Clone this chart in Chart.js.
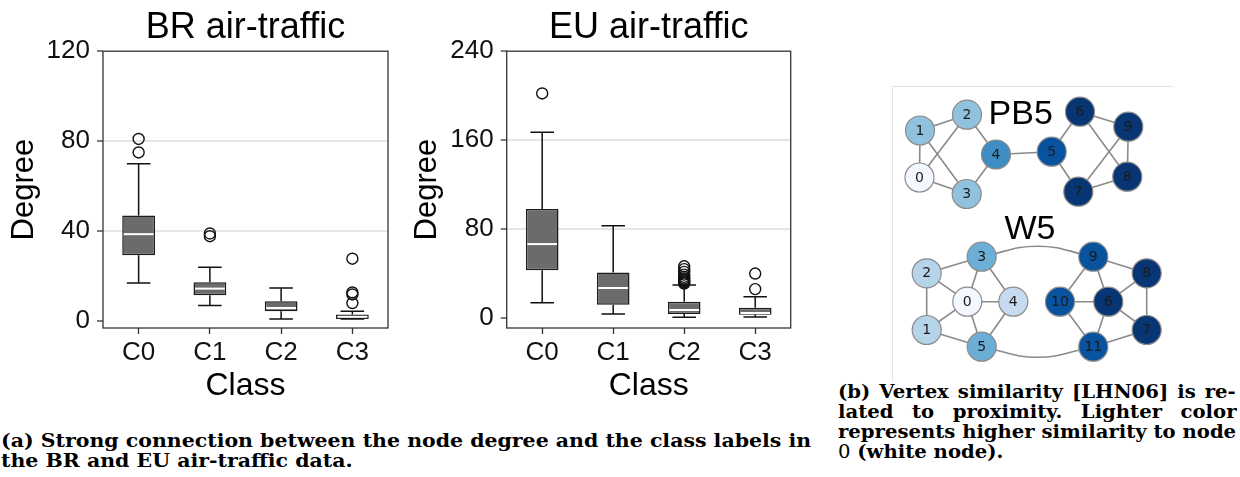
<!DOCTYPE html>
<html>
<head>
<meta charset="utf-8">
<title>Degree by class / vertex similarity</title>
<script src="https://cdn.jsdelivr.net/npm/chart.js@4.4.1/dist/chart.umd.min.js"></script>
<style>
  html, body { margin: 0; padding: 0; background: #fff; }
  body { position: relative; width: 1240px; height: 477px; overflow: hidden; }
  canvas, .frame, .cap { position: absolute; }
  #brChart { left: 0; top: 0; }
  #euChart { left: 400px; top: 0; }
  #netChart { left: 892px; top: 86px; }
  .frame { left: 892px; top: 86px; width: 280px; height: 294px; border-left: 1px solid #e4e4e4; border-top: 1px solid #e4e4e4; }
  .cap { font-family: "DejaVu Serif", serif; font-weight: bold; font-size: 18px; line-height: 20px; color: #000; }
  .cap .ln { white-space: nowrap; height: 20px; }
  .cap .ln > span { display: inline-block; transform-origin: 0 0; }
  .cap .plain { font-weight: normal; }
  #capA { left: 1px; top: 431px; }
  #capB { left: 838px; top: 382px; }
</style>
</head>
<body>
<canvas id="brChart" width="400" height="415"></canvas>
<canvas id="euChart" width="410" height="415"></canvas>
<div class="frame"></div>
<canvas id="netChart" width="348" height="294"></canvas>

<div class="cap" id="capA">
  <div class="ln" data-w="810"><span>(a) Strong connection between the node degree and the class labels in</span></div>
  <div class="ln"><span>the BR and EU air-traffic data.</span></div>
</div>
<div class="cap" id="capB">
  <div class="ln" data-w="398"><span>(b) Vertex similarity [LHN06] is re-</span></div>
  <div class="ln" data-w="398"><span>lated to proximity. Lighter color</span></div>
  <div class="ln" data-w="398"><span>represents higher similarity to node</span></div>
  <div class="ln"><span><span class="plain">0</span> (white node).</span></div>
</div>

<script>
const classes = ["C0", "C1", "C2", "C3"];

// BR air-traffic: node degree per class (box-plot summary)
const brLow = [17, 7, 1, 1];
const brQ1 = [29.3, 11.6, 4.4, 1];
const brMedian = [38.7, 14.5, 5.9, 2];
const brQ3 = [47, 17.3, 8.9, 3];
const brHigh = [70, 24, 14.8, 4.4];
const brOutliers = [[81, 75], [39, 37.8], [], [27.8, 12.8, 11.9, 8.1]];
const brTicks = [0, 40, 80, 120];

// EU air-traffic
const euLow = [13.8, 3.6, 0.6, 1];
const euQ1 = [43, 12, 3.6, 3];
const euMedian = [66.5, 27, 7.2, 4.5];
const euQ3 = [98, 41, 14.7, 9.3];
const euHigh = [167, 83, 29.7, 19];
const euOutliers = [[202], [], [46.5, 44, 41.5, 39, 37, 35.5, 34, 33, 32, 31], [40, 26]];
const euTicks = [0, 80, 160, 240];

// PB5 graph: node layout and distance from node 0 (0 = most similar)
const pb5X = [2.75, 2.8, 7.5, 7.47, 10.4, 15.97, 18.8, 18.63, 23.53, 23.63];
const pb5Y = [20.25, 24.95, 26.53, 18.6, 22.55, 22.83, 26.83, 18.83, 20.33, 25.33];
const pb5Dist = [0.02, 0.41, 0.41, 0.41, 0.64, 0.87, 0.98, 0.98, 0.98, 0.98];
const pb5Edges = [[0, 1], [0, 2], [0, 3], [1, 2], [1, 3], [2, 4], [3, 4], [4, 5], [5, 6], [5, 7], [6, 8], [6, 9], [7, 8], [7, 9], [8, 9]];

// W5 graph
const w5X = [7.53, 3.47, 3.47, 8.97, 12.13, 8.97, 21.63, 25.47, 25.47, 20.13, 16.8, 20.13];
const w5Y = [7.83, 5.0, 10.67, 12.33, 7.83, 3.33, 7.83, 5.0, 10.67, 12.33, 7.83, 3.33];
const w5Dist = [0.02, 0.3, 0.3, 0.5, 0.25, 0.5, 0.98, 0.98, 0.98, 0.87, 0.87, 0.87];
const w5Edges = [[0, 1], [0, 2], [0, 3], [0, 4], [0, 5], [1, 2], [1, 5], [2, 3], [3, 4], [4, 5], [6, 7], [6, 8], [6, 9], [6, 10], [6, 11], [7, 8], [7, 11], [8, 9], [9, 10], [10, 11]];
const w5Arcs = [[3, 9, 1], [5, 11, -1]]; // long edges drawn bowed, last item = side

const graphNames = ["PB5", "W5"];
const graphNameX = [12.87, 13.8];
const graphNameY = [25.57, 14.07];

const sans = '"Liberation Sans", Arial, sans-serif';

// whisker lines, caps, white median and the full frame around the plot area
function whiskers(s) {
  return {
    id: "whiskers",
    afterDatasetsDraw(chart) {
      const { ctx, chartArea, scales } = chart;
      const y = scales.y;
      const boxes = chart.getDatasetMeta(0).data;
      ctx.save();
      boxes.forEach((bar, i) => {
        const cap = bar.width * 0.36;
        ctx.strokeStyle = "#111";
        ctx.lineWidth = 1.5;
        ctx.beginPath();
        [[s.q1[i], s.low[i]], [s.q3[i], s.high[i]]].forEach(([from, to]) => {
          const y0 = y.getPixelForValue(from);
          const y1 = y.getPixelForValue(to);
          ctx.moveTo(bar.x, y0);
          ctx.lineTo(bar.x, y1);
          ctx.moveTo(bar.x - cap, y1);
          ctx.lineTo(bar.x + cap, y1);
        });
        ctx.stroke();
        const ym = y.getPixelForValue(s.median[i]);
        ctx.strokeStyle = "#fff";
        ctx.lineWidth = 2;
        ctx.beginPath();
        ctx.moveTo(bar.x - bar.width / 2 + 1.5, ym);
        ctx.lineTo(bar.x + bar.width / 2 - 1.5, ym);
        ctx.stroke();
      });
      ctx.strokeStyle = "#333";
      ctx.lineWidth = 1.3;
      ctx.strokeRect(chartArea.left, chartArea.top, chartArea.right - chartArea.left, chartArea.bottom - chartArea.top);
      ctx.restore();
    },
  };
}

function boxPlot(canvasId, title, s, yMin, yMax, ticks, yAxisWidth, rightPad, yTitlePad) {
  return new Chart(document.getElementById(canvasId), {
    type: "bar",
    data: {
      labels: classes,
      datasets: [
        {
          label: "IQR",
          data: classes.map((c, i) => [s.q1[i], s.q3[i]]),
          backgroundColor: "#6b6b6b",
          borderColor: "#1c1c1c",
          borderWidth: 1.5,
          borderSkipped: false,
          barPercentage: 0.46,
          categoryPercentage: 1,
          order: 1,
        },
        {
          type: "line",
          label: "outliers",
          data: s.outliers.flatMap((vals, i) => vals.map((v) => ({ x: classes[i], y: v }))),
          showLine: false,
          pointRadius: 5.5,
          pointBorderWidth: 1.4,
          pointBorderColor: "#111",
          pointBackgroundColor: "rgba(255,255,255,0)",
          order: 0,
        },
      ],
    },
    options: {
      responsive: false,
      animation: false,
      events: [],
      layout: { autoPadding: false, padding: { left: 0, right: rightPad, top: 0, bottom: 0 } },
      plugins: {
        legend: { display: false },
        tooltip: { enabled: false },
        title: {
          display: true,
          text: title,
          fullSize: false,
          color: "#000",
          font: { family: sans, size: 36, weight: "normal" },
          padding: { top: 6, bottom: 2 },
        },
      },
      scales: {
        x: {
          offset: true,
          grid: { offset: false, drawOnChartArea: false, tickLength: 6, tickColor: "#333", tickWidth: 1.3 },
          border: { display: false },
          ticks: { color: "#111", font: { family: sans, size: 26 }, padding: 3 },
          title: { display: true, text: "Class", color: "#000", font: { family: sans, size: 32 }, padding: { top: 0, bottom: 10 } },
          afterFit: (axis) => { axis.height = 87; },
        },
        y: {
          min: yMin,
          max: yMax,
          afterBuildTicks: (axis) => { axis.ticks = ticks.map((v) => ({ value: v })); },
          afterFit: (axis) => { axis.width = yAxisWidth; },
          grid: {
            color: (c) => (c.tick && c.tick.value > 0 && c.tick.value < yMax ? "#e6e6e6" : "rgba(0,0,0,0)"),
            lineWidth: 2,
            tickLength: 6,
            tickColor: "#333",
            tickWidth: 1.3,
          },
          border: { display: false },
          ticks: { color: "#111", font: { family: sans, size: 26 }, padding: 7 },
          title: { display: true, text: "Degree", color: "#000", font: { family: sans, size: 31 }, padding: { top: yTitlePad, bottom: 0 } },
        },
      },
    },
    plugins: [whiskers(s)],
  });
}

boxPlot("brChart", "BR air-traffic",
  { low: brLow, q1: brQ1, median: brMedian, q3: brQ3, high: brHigh, outliers: brOutliers },
  -3, 120, brTicks, 103, 12, 6);
boxPlot("euChart", "EU air-traffic",
  { low: euLow, q1: euQ1, median: euMedian, q3: euQ3, high: euHigh, outliers: euOutliers },
  -9, 240, euTicks, 106.7, 19.3, 9);

// matplotlib "Blues"
const blues = ["#f7fbff", "#deebf7", "#c6dbef", "#9ecae1", "#6baed6", "#4292c6", "#2171b5", "#08519c", "#08306b"];
function hexRgb(h) {
  return [1, 3, 5].map((k) => parseInt(h.slice(k, k + 2), 16));
}
function bluesAt(t) {
  const pos = Math.min(Math.max(t, 0), 1) * (blues.length - 1);
  const i = Math.min(Math.floor(pos), blues.length - 2);
  const f = pos - i;
  const a = hexRgb(blues[i]);
  const b = hexRgb(blues[i + 1]);
  const c = a.map((v, k) => Math.round(v + (b[k] - v) * f));
  return "rgb(" + c.join(",") + ")";
}

function nodeData(xs, ys) {
  return xs.map((x, i) => ({ x: x, y: ys[i] }));
}

function edgeSets(xs, ys, edges) {
  return edges.map(([a, b]) => ({
    data: [{ x: xs[a], y: ys[a] }, { x: xs[b], y: ys[b] }],
    showLine: true,
    borderColor: "#8a8a8a",
    borderWidth: 1.6,
    pointRadius: 0,
    order: 2,
  }));
}

function arcSets(xs, ys, arcs) {
  const bow = 1.05;
  return arcs.map(([a, b, side]) => ({
    data: [
      { x: xs[a], y: ys[a] },
      { x: (xs[a] + xs[b]) / 2, y: (ys[a] + ys[b]) / 2 + side * bow },
      { x: xs[b], y: ys[b] },
    ],
    showLine: true,
    tension: 0.45,
    borderColor: "#8a8a8a",
    borderWidth: 1.6,
    pointRadius: 0,
    order: 2,
  }));
}

function nodeSet(xs, ys, dist) {
  return {
    data: nodeData(xs, ys),
    nodeIds: xs.map((x, i) => String(i)),
    pointRadius: 14.5,
    pointBackgroundColor: dist.map(bluesAt),
    pointBorderColor: "#8c8c8c",
    pointBorderWidth: 1.2,
    order: 0,
  };
}

const nodeLabels = {
  id: "nodeLabels",
  afterDatasetsDraw(chart) {
    const { ctx, scales } = chart;
    ctx.save();
    ctx.textAlign = "center";
    ctx.textBaseline = "middle";
    ctx.fillStyle = "#1b1b1b";
    ctx.font = '14px "DejaVu Sans", sans-serif';
    chart.data.datasets.forEach((ds, di) => {
      if (!ds.nodeIds) return;
      chart.getDatasetMeta(di).data.forEach((pt, i) => {
        ctx.fillText(ds.nodeIds[i], pt.x, pt.y + 0.5);
      });
    });
    ctx.fillStyle = "#000";
    ctx.textBaseline = "alphabetic";
    ctx.font = "34px " + sans;
    graphNames.forEach((name, i) => {
      ctx.fillText(name, scales.x.getPixelForValue(graphNameX[i]), scales.y.getPixelForValue(graphNameY[i]));
    });
    ctx.restore();
  },
};

new Chart(document.getElementById("netChart"), {
  type: "scatter",
  data: {
    datasets: [
      nodeSet(pb5X, pb5Y, pb5Dist),
      nodeSet(w5X, w5Y, w5Dist),
      ...edgeSets(pb5X, pb5Y, pb5Edges),
      ...edgeSets(w5X, w5Y, w5Edges),
      ...arcSets(w5X, w5Y, w5Arcs),
    ],
  },
  options: {
    responsive: false,
    animation: false,
    events: [],
    layout: { autoPadding: false, padding: 0 },
    plugins: { legend: { display: false }, tooltip: { enabled: false } },
    scales: {
      x: { type: "linear", min: 0, max: 34.8, display: false },
      y: { type: "linear", min: 0, max: 29.4, display: false },
    },
  },
  plugins: [nodeLabels],
});

// widen caption glyphs so the tightest line fills the column, then justify the others with word spacing
function fitCaption(cap) {
  const rows = [...cap.querySelectorAll(".ln")];
  rows.forEach((r) => {
    r.firstElementChild.style.wordSpacing = "0px";
    r.firstElementChild.style.transform = "none";
  });
  const justified = rows.filter((r) => r.dataset.w);
  const scale = Math.min(...justified.map((r) => +r.dataset.w / r.firstElementChild.offsetWidth));
  rows.forEach((r) => {
    const span = r.firstElementChild;
    if (r.dataset.w) {
      const gaps = (span.textContent.match(/ /g) || []).length;
      const extra = +r.dataset.w / scale - span.offsetWidth;
      span.style.wordSpacing = extra / gaps + "px";
    }
    span.style.transform = "scaleX(" + scale + ")";
  });
}
function fitAll() {
  document.querySelectorAll(".cap").forEach(fitCaption);
}
fitAll();
document.fonts.ready.then(fitAll);
</script>
</body>
</html>
